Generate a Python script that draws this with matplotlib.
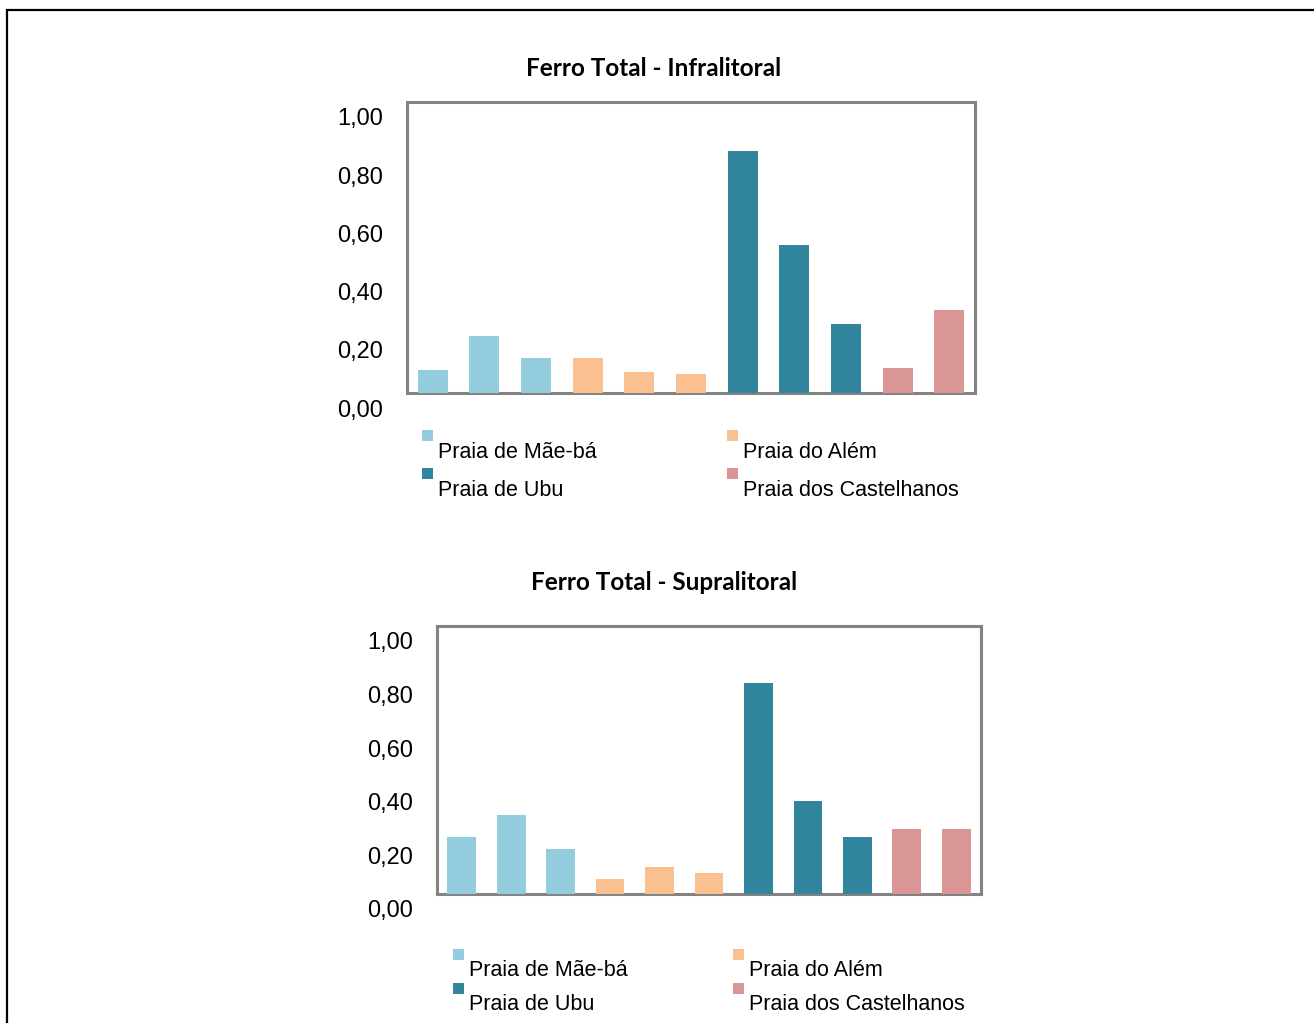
import matplotlib
matplotlib.use("Agg")
import matplotlib.pyplot as plt
from matplotlib.patches import Rectangle
from matplotlib.transforms import ScaledTranslation

# Beaches and the number of sampling points in each
beaches = ["Praia de Mãe-bá", "Praia do Além", "Praia de Ubu", "Praia dos Castelhanos"]
points_per_beach = [3, 3, 3, 2]
beach_colors = ["#93CDDD", "#FAC090", "#31859C", "#D99694"]

# Total iron per sampling point
infralitoral = [0.078, 0.196, 0.120, 0.120, 0.071, 0.065, 0.830, 0.507, 0.237, 0.085, 0.286]
supralitoral = [0.213, 0.295, 0.168, 0.056, 0.101, 0.078, 0.786, 0.347, 0.213, 0.243, 0.243]

ytick_values = [0.0, 0.2, 0.4, 0.6, 0.8, 1.0]
ytick_labels = ["0,00", "0,20", "0,40", "0,60", "0,80", "1,00"]

W, H = 1314, 1023
DPI = 100
fig = plt.figure(figsize=(W / DPI, H / DPI), dpi=DPI)
fig.patch.set_facecolor("white")

# outer frame of the page
fig.patches.append(Rectangle((7 / W, -0.05), 1.1, 1 - 10 / H + 0.05,
                             transform=fig.transFigure, fill=False,
                             edgecolor="black", linewidth=1.6))

bar_colors = []
for c, n in zip(beach_colors, points_per_beach):
    bar_colors += [c] * n

TICK_FONT = "Liberation Sans"
TITLE_FONT = "Lato"


def draw_panel(rect_px, values, title, title_xy, legend_px):
    l, t, r, b = rect_px
    ax = fig.add_axes([l / W, 1 - b / H, (r - l) / W, (b - t) / H])
    x = list(range(len(values)))
    ax.bar(x, values, width=0.58, color=bar_colors, zorder=3, clip_on=False)
    ax.set_xlim(-0.5, len(values) - 0.5)
    ax.set_ylim(0, 1.0)
    ax.set_xticks([])
    ax.set_yticks(ytick_values)
    ax.set_yticklabels(ytick_labels, fontsize=17, family=TICK_FONT)
    ax.tick_params(axis="y", length=0, pad=17)
    offset = ScaledTranslation(0, -15 / DPI, fig.dpi_scale_trans)
    for lab in ax.get_yticklabels():
        lab.set_transform(lab.get_transform() + offset)
    for s in ax.spines.values():
        s.set_color("#838383")
        s.set_linewidth(2.2)
        s.set_zorder(2)
    fig.text(title_xy[0] / W, 1 - title_xy[1] / H, title, ha="center", va="center",
             fontsize=17.5, fontweight="bold", family=TITLE_FONT)

    # legend: small square above-left of each label, two columns
    (cx1, cx2), (ry1, ry2) = legend_px
    slots = [(cx1, ry1), (cx2, ry1), (cx1, ry2), (cx2, ry2)]
    for (mx, my), name, col in zip(slots, beaches, beach_colors):
        fig.patches.append(Rectangle((mx / W, 1 - (my + 11) / H), 11 / W, 11 / H,
                                     transform=fig.transFigure, facecolor=col,
                                     edgecolor="none"))
        fig.text((mx + 16) / W, 1 - (my + 22) / H, name, ha="left", va="center",
                 fontsize=15.5, family=TICK_FONT)
    return ax


draw_panel((407, 102, 975, 393), infralitoral, "Ferro Total - Infralitoral", (654, 69),
           ((422, 727), (430, 468)))
draw_panel((437, 626, 981, 894), supralitoral, "Ferro Total - Supralitoral", (664, 583),
           ((453, 733), (949, 983)))

fig.savefig("out.png", dpi=DPI)
